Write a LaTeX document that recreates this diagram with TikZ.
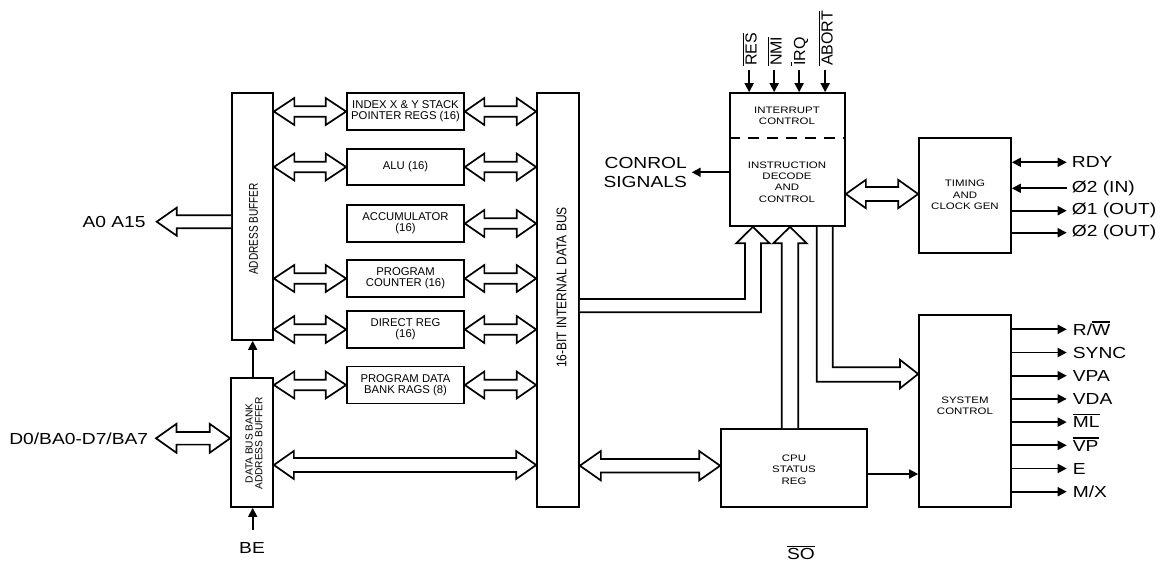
\documentclass[tikz,border=0pt]{standalone}
\usepackage{fontspec}
\setmainfont{Liberation Sans}
\newfontfamily\fwide{Liberation Sans}[FakeStretch=1.2]
\newfontfamily\fwideS{Liberation Sans}[FakeStretch=1.22]
\newfontfamily\fnarA{Liberation Sans}[FakeStretch=0.8]
\newfontfamily\fnarB{Liberation Sans}[FakeStretch=0.86]
\usetikzlibrary{arrows.meta,calc}
\newcommand\myovl[1]{\leavevmode\vbox{\hrule height 1.3pt\kern 1.6pt\hbox{#1}}}
% double hollow bus arrow: left point, right point, head length, head half, shaft half
\newcommand\dbus[5]{\path[bus] let \p1=#1, \p2=#2 in
  (\x1,\y1) -- (\x1+#3,\y1+#4) -- (\x1+#3,\y1+#5) -- (\x2-#3,\y1+#5) -- (\x2-#3,\y1+#4)
  -- (\x2,\y1) -- (\x2-#3,\y1-#4) -- (\x2-#3,\y1-#5) -- (\x1+#3,\y1-#5) -- (\x1+#3,\y1-#4) -- cycle;}
% single hollow bus arrow pointing left: tip, open end
\newcommand\sbus[5]{\path[bus] let \p1=#1, \p2=#2 in
  (\x2,\y1+#5) -- (\x1+#3,\y1+#5) -- (\x1+#3,\y1+#4) -- (\x1,\y1) -- (\x1+#3,\y1-#4) -- (\x1+#3,\y1-#5) -- (\x2,\y1-#5);}
\tikzset{
  lw/.style={line width=1.7pt},
  blk/.style={draw, lw, inner sep=0pt, align=center, font=\fontsize{11.3}{11}\selectfont},
  sm/.style={font=\fwideS\fontsize{9.4}{11.4}\selectfont, align=center, inner sep=0pt},
  big/.style={font=\fwide\fontsize{16}{19}\selectfont, inner sep=0pt},
  bigr/.style={font=\fontsize{16}{19}\selectfont, inner sep=0pt, rotate=90, anchor=west},
  sig/.style={lw, -{Triangle[length=9pt,width=9pt]}},
  sigb/.style={lw, {Triangle[length=9pt,width=9pt]}-{Triangle[length=9pt,width=9pt]}},
  bus/.style={draw, lw, fill=white, line join=miter},
}
\begin{document}
\begin{tikzpicture}[x=1pt, y=-1pt]
\useasboundingbox (0,0) rectangle (1161,563);
% left column
\node[blk, minimum width=41, minimum height=247] (abuf) at (252.5,216.5) {};
\node[rotate=90, font=\fnarA\fontsize{12.6}{12}\selectfont, inner sep=0pt] (abuft) at (253.5,229) {ADDRESS BUFFER};
\node[blk, minimum width=42, minimum height=129] (dbuf) at (252,442.5) {};
\node[rotate=90, align=center, font=\fontsize{10.2}{9.6}\selectfont, inner sep=0pt] (dbuft) at (254,443.3) {DATA BUS BANK\\ADDRESS BUFFER};
\node[blk, minimum width=42, minimum height=414] (ibus) at (558,300) {};
\node[rotate=90, font=\fnarB\fontsize{14}{14}\selectfont, inner sep=0pt] (ibust) at (561.5,287.5) {16-BIT INTERNAL DATA BUS};
% registers
\node[blk, minimum width=117, minimum height=37] (idx) at (405.5,111.5) {INDEX X \& Y STACK\\POINTER REGS (16)};
\node[blk, minimum width=117, minimum height=36] (alu) at (405.5,167) {ALU (16)};
\node[blk, minimum width=117, minimum height=37] (acc) at (405.5,223.5) {ACCUMULATOR\\(16)};
\node[blk, minimum width=117, minimum height=37] (pc) at (405.5,278.5) {PROGRAM\\COUNTER (16)};
\node[blk, minimum width=117, minimum height=37] (dr) at (405.5,329.5) {DIRECT REG\\(16)};
\node[blk, minimum width=117, minimum height=37] (pdb) at (405.5,385) {PROGRAM DATA\\BANK RAGS (8)};
% right blocks
\node[blk, minimum width=115, minimum height=133] (ictl) at (787.5,159.5) {};
\node[sm] (ictlt1) at (787,116) {INTERRUPT\\CONTROL};
\node[sm] (ictlt2) at (787,182) {INSTRUCTION\\DECODE\\AND\\CONTROL};
\draw[lw, dash pattern=on 11pt off 8pt] (ictl.west |- 0,137.7) -- (ictl.east |- 0,137.7);
\node[blk, minimum width=92, minimum height=115] (timing) at (965,195.5) {};
\node[sm] (timingt) at (965,195) {TIMING\\AND\\CLOCK GEN};
\node[blk, minimum width=92, minimum height=192] (sysc) at (965,411) {};
\node[sm] (sysct) at (965,406) {SYSTEM\\CONTROL};
\node[blk, minimum width=146, minimum height=78] (cpu) at (794,468) {};
\node[sm] (cput) at (794,469.5) {CPU\\STATUS\\REG};
% register buses
\foreach \r in {idx,alu,pc,dr,pdb}{
  \dbus{(abuf.east |- \r.west)}{(\r.west)}{20.5pt}{13.5pt}{5.3pt}
}
\foreach \r in {idx,alu,acc,pc,dr,pdb}{
  \dbus{(\r.east)}{(ibus.west |- \r.east)}{19.5pt}{13.5pt}{5.3pt}
}
% data bus buffer to internal bus
\dbus{(dbuf.east |- 0,465)}{(ibus.west |- 0,465)}{20pt}{14pt}{7pt}
% external buses
\coordinate (a0tip) at (156.7,221.7);
\node[big, anchor=east] (a0) at ([xshift=-11]a0tip) {A0 A15};
\sbus{(a0tip)}{(abuf.west |- a0tip)}{20pt}{14pt}{6.5pt}
\coordinate (d0tip) at (156,438.3);
\node[big, anchor=east] (d0) at ([xshift=-7.7]d0tip) {D0/BA0-D7/BA7};
\dbus{(d0tip)}{(dbuf.west |- d0tip)}{20.5pt}{14.5pt}{6.3pt}
% buffer arrows
\draw[sig] (dbuf.north -| 252.7,0) -- (abuf.south -| 252.7,0);
\node[big] (be) at (252,547.5) {BE};
\draw[sig] (252.7,530) -- (dbuf.south -| 252.7,0);
% internal bus to CPU status
\dbus{(ibus.east |- 0,465.7)}{(cpu.west |- 0,465.7)}{21pt}{14.7pt}{6.7pt}
% internal bus up to instruction decode
\path[bus] (ibus.east |- 0,299) -- (745,299) -- (745,243.3) -- (736.2,243.3) -- (ictl.south -| 752.9,0)
  -- (769.6,243.3) -- (761,243.3) -- (761,312.3) -- (ibus.east |- 0,312.3);
% status reg up to instruction decode
\path[bus] (cpu.north -| 781.7,0) -- (781.7,243.3) -- (773.3,243.3) -- (ictl.south -| 790,0)
  -- (806.7,243.3) -- (798.3,243.3) -- (cpu.north -| 798.3,0);
% instruction decode down to system control
\path[bus] (ictl.south -| 816.7,0) -- (816.7,381.7) -- (900,381.7) -- (900,388.3) -- (sysc.west |- 0,374)
  -- (900,359.8) -- (900,367.3) -- (832.7,367.3) -- (ictl.south -| 832.7,0);
% instruction decode to timing
\dbus{(ictl.east |- 0,194)}{(timing.west |- 0,194)}{20pt}{14.2pt}{7pt}
% CPU status to system control
\draw[sig] (cpu.east |- 0,474) -- (sysc.west |- 0,474);
% control signals
\node[big, align=right, anchor=east] (ctl) at (687,172) {CONROL\\SIGNALS};
\draw[sig] (ictl.west |- 0,172.3) -- (691.7,172.3);
% interrupt inputs
\foreach \n/\dx/\t in {res/20/{\myovl{RES}}, nmi/45/{\myovl{NMI}}, irq/70/{\myovl{I}RQ}, abt/96/{\myovl{ABORT}}}{
  \coordinate (s\n) at ($(ictl.north west)+(\dx,-22.5)$);
  \draw[sig] (s\n) -- (s\n |- ictl.north);
  \node[bigr] (l\n) at ($(s\n)+(0.5,-3.5)$) {\t};
}
% timing signals
\coordinate (trdy) at (1066.7,162.3);
\coordinate (tin) at (1066.7,188.3);
\coordinate (to1) at (1066.7,210.7);
\coordinate (to2) at (1066.7,232.7);
\draw[sigb] (timing.east |- trdy) -- (trdy);
\draw[sig] (tin) -- (timing.east |- tin);
\draw[sig] (timing.east |- to1) -- (to1);
\draw[sig] (timing.east |- to2) -- (to2);
\node[big, anchor=west] (ltrdy) at ([xshift=5]trdy) {RDY};
\node[big, anchor=west] (ltin) at ([xshift=5]tin) {Ø2 (IN)};
\node[big, anchor=west] (lto1) at ([xshift=5]to1) {Ø1 (OUT)};
\node[big, anchor=west] (lto2) at ([xshift=5]to2) {Ø2 (OUT)};
% system control outputs
\foreach \i/\y/\t in {1/329.3/{R/\myovl{W}}, 2/352.5/SYNC, 3/375.7/VPA, 4/398.9/VDA, 5/422.1/{\myovl{ML}}, 6/445.3/{\myovl{VP}}, 7/468.5/E, 8/491.7/{M/X}}{
  \coordinate (o\i) at (1066.7,\y);
  \draw[sig] (sysc.east |- o\i) -- (o\i);
  \node[big, anchor=base west] (lo\i) at ($(o\i)+(6,5.8)$) {\t};
}
% SO label
\node[big] (so) at (801,553) {\myovl{SO}};
\end{tikzpicture}
\end{document}
